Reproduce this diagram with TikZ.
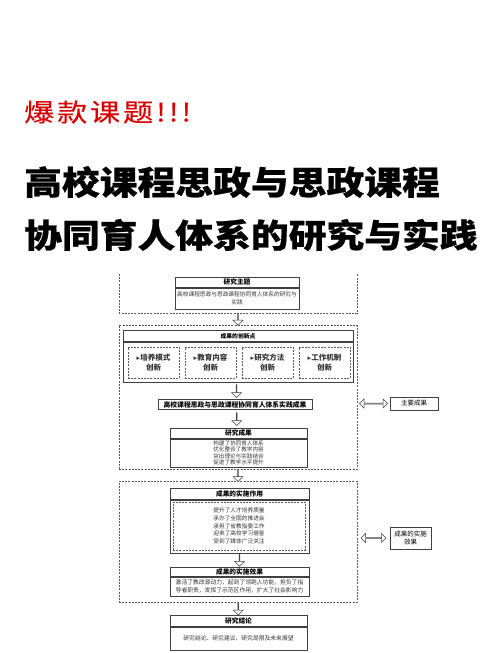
\documentclass[tikz,border=0pt]{standalone}
\usepackage{fontspec}
\setmainfont{Noto Sans CJK SC}
\newfontfamily\titlefont{Noto Sans CJK SC}[FakeStretch=1.145, BoldFeatures={FakeBold=0.6}]
\newfontfamily\hotfont{Noto Sans CJK SC}[FakeStretch=1.2, LetterSpace=12, FakeBold=0.3]
\newfontfamily\symfont{DejaVu Sans}
\usetikzlibrary{positioning,calc,shapes.arrows}

\tikzset{
  hdr/.style={draw=black!75, line width=0.6pt, inner sep=0pt, anchor=north,
    font=\bfseries\fontsize{6.7}{8}\selectfont},
  bodybox/.style={draw=black!75, line width=0.6pt, inner xsep=1pt, inner ysep=1pt,
    align=center, text=black!80, font=\fontsize{5.7}{7.6}\selectfont},
  dashbox/.style={draw=black!65, line width=0.6pt, dash pattern=on 2pt off 1.2pt},
  downarrow/.style={single arrow, draw=black!75, fill=white, line width=0.5pt,
    shape border rotate=270, minimum width=10pt, minimum height=12pt,
    single arrow head extend=2.5pt, inner sep=0pt},
  bothway/.style={double arrow, draw=black!75, fill=white, line width=0.5pt,
    minimum width=9pt, double arrow head extend=2pt, inner sep=0pt},
  sidebox/.style={draw=black!75, line width=0.6pt, align=center, inner sep=1pt,
    font=\fontsize{6.5}{8}\selectfont}
}

\begin{document}
\begin{tikzpicture}[x=1pt, y=-1pt]
    \useasboundingbox (0,0) rectangle (500,653);
    %% titles
    \node[anchor=west, inner sep=0pt, text=red!85!black,
      font=\hotfont\fontsize{25}{25}\selectfont] (hot) at (24,112) {爆款课题!!!};
    \node[anchor=west, inner sep=0pt,
      font=\titlefont\bfseries\fontsize{33}{33}\selectfont] (title1) at (24,182) {高校课程思政与思政课程};
    \node[anchor=west, inner sep=0pt,
      font=\titlefont\bfseries\fontsize{33}{33}\selectfont] (title2) at (24,235) {协同育人体系的研究与实践};

    %% research theme (box cut at the top)
    \draw[dashbox] (119,274) |- (357,313) -- (357,274);
    \coordinate (topbox) at (238,313);
    \node[hdr, minimum width=124pt, minimum height=10pt] (themeH) at (237,277) {研究主题};
    \node[bodybox, text width=122pt, minimum height=21pt, below=0pt of themeH] (themeB)
      {高校课程思政与思政课程协同育人体系的研究与\\实践};

    %% innovations
    \node[dashbox, minimum width=238pt, minimum height=144pt, anchor=north, inner sep=0pt] (box2) at (238,325) {};
    \node[hdr, font=\bfseries\fontsize{5.8}{7}\selectfont, minimum width=230pt, minimum height=11pt] (innovH) at (238,330) {成果的创新点};
    \node[draw=black!75, line width=0.6pt, minimum width=230pt, minimum height=40pt, inner sep=0pt,
      below=0pt of innovH] (innovB) {};
    \foreach \lbl [count=\i] in {培养模式, 教育内容, 研究方法, 工作机制}
        \node[dashbox, minimum width=51pt, minimum height=31pt, align=center, inner sep=0pt,
          text=black!80, font=\bfseries\fontsize{7.5}{10}\selectfont] (point\i)
          at ({96.5+57*\i},362.5) {{\symfont\fontsize{7}{10}\selectfont ▸}\lbl\\创新};

    \node[draw=black!75, line width=0.6pt, minimum width=154pt, minimum height=9.5pt, inner sep=0pt,
      font=\bfseries\fontsize{6.8}{8}\selectfont] (practice) at (235,404.5) {高校课程思政与思政课程协同育人体系实践成果};

    \node[hdr, minimum width=137pt, minimum height=10pt] (resH) at (238.5,428) {研究成果};
    \node[bodybox, minimum width=137pt, minimum height=28pt, font=\fontsize{5.6}{6.2}\selectfont,
      below=0pt of resH] (resB)
      {构建了协同育人体系\\优化整合了教学内容\\突出理论与实践结合\\促进了教学水平提升};

    \node[sidebox, minimum width=48pt, minimum height=13pt] (mainres) at (414,403.5) {主要成果};

    %% practical role and effect
    \node[dashbox, minimum width=238pt, minimum height=121pt, anchor=north, inner sep=0pt] (box3) at (238,481) {};
    \node[hdr, minimum width=139pt, minimum height=11pt] (roleH) at (239.5,488) {成果的实施作用};
    \node[draw=black!75, line width=0.6pt, minimum width=139pt, minimum height=53pt, inner sep=0pt,
      below=0pt of roleH] (roleB) {};
    \node[dashbox, minimum width=132pt, minimum height=48pt, align=center, inner sep=0pt,
      text=black!80, font=\fontsize{5.7}{7.7}\selectfont] (roleT) at (239,526)
      {提升了人才培养质量\\承办了全国的推进会\\承担了省教指委工作\\迎来了高校学习借鉴\\受到了媒体广泛关注};

    \node[hdr, minimum width=139pt, minimum height=9pt] (effH) at (239.5,567) {成果的实施效果};
    \node[bodybox, minimum width=139pt, minimum height=19pt, font=\fontsize{5.8}{7.5}\selectfont,
      below=0pt of effH] (effB)
      {激活了教改源动力，起到了领跑人功能，担负了指\\导者职责，发挥了示范区作用，扩大了社会影响力};

    \node[sidebox, minimum width=41pt, minimum height=22pt] (effect) at (410.5,538) {成果的实施\\效果};

    %% conclusion
    \node[hdr, minimum width=137pt, minimum height=11pt] (conclH) at (238.5,615) {研究结论};
    \node[bodybox, minimum width=137pt, minimum height=23pt, font=\fontsize{5.8}{7}\selectfont,
      below=0pt of conclH] (conclB) {研究结论、研究建议、研究局限及未来展望};

    %% arrows
    \node[downarrow] (arr1) at ($(topbox)!0.5!(box2.north)$) {};
    \node[downarrow, minimum height=13pt] (arr2) at ($(innovB.south)!0.5!(practice.north)$) {};
    \node[downarrow, minimum height=13pt] (arr3) at ($(practice.south)!0.5!(resH.north)$) {};
    \node[downarrow] (arr4) at ($(box2.south)!0.5!(box3.north)$) {};
    \node[downarrow] (arr5) at ($(roleB.south)!0.5!(effH.north)$) {};
    \node[downarrow, minimum height=12pt] (arr6) at ($(box3.south)!0.5!(conclH.north)$) {};
    \node[bothway, minimum height=28pt] (link1) at ($(box2.east|-mainres.west)!0.5!(mainres.west)$) {};
    \node[bothway, minimum height=25pt] (link2) at ($(box3.east|-effect.west)!0.5!(effect.west)$) {};
\end{tikzpicture}
\end{document}
